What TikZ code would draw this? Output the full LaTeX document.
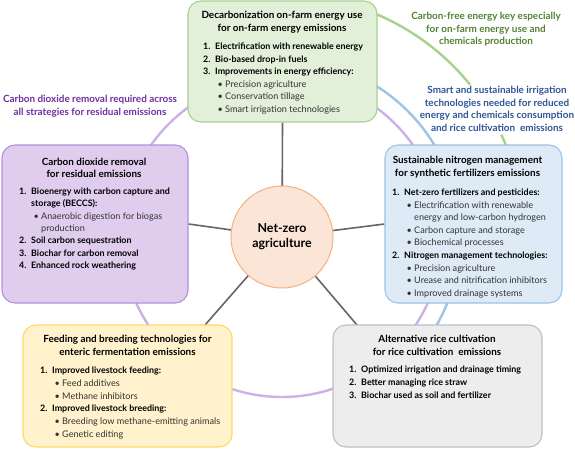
\documentclass[tikz,border=0pt]{standalone}
\usepackage{fontspec}
\setmainfont{Lato}
\usetikzlibrary{backgrounds}
\definecolor{gfill}{HTML}{E2EFD9}\definecolor{gdraw}{HTML}{A9D18E}
\definecolor{bfill}{HTML}{DEEBF7}\definecolor{bdraw}{HTML}{9DC3E6}
\definecolor{pfill}{HTML}{E0CDEE}\definecolor{pdraw}{HTML}{B590D8}
\definecolor{yfill}{HTML}{FFF2CC}\definecolor{ydraw}{HTML}{FFD966}
\definecolor{kfill}{HTML}{EDEDED}\definecolor{kdraw}{HTML}{BFBFBF}
\definecolor{cfill}{HTML}{FBE5D6}\definecolor{cdraw}{HTML}{F4B183}
\definecolor{garc}{HTML}{A9D18E}\definecolor{barc}{HTML}{9DC3E6}\definecolor{parc}{HTML}{CDB0EA}
\definecolor{gtxt}{HTML}{548235}\definecolor{btxt}{HTML}{2F5597}\definecolor{ptxt}{HTML}{7030A0}
\definecolor{spk}{HTML}{666666}\definecolor{subtxt}{HTML}{333333}
\newcommand\stk[2]{\vtop{\baselineskip=#1\lineskiplimit=-20pt\lineskip=0pt #2}}
\newcommand\cl[1]{\hbox to 0pt{\hss#1\hss}}
\newcommand\itfont{\fontsize{8.9}{12}\selectfont\bfseries}
\newcommand\bufont{\fontsize{9.1}{12}\selectfont}
\newcommand\itm[2]{\hbox{\itfont\makebox[12pt][l]{#1}#2}}
\newcommand\itc[1]{\hbox{\itfont\hspace*{12pt}#1}}
\newcommand\bul[1]{\hbox{\bufont\color{subtxt}\hspace*{14.5pt}\makebox[7.5pt][l]{\textbullet}#1}}
\newcommand\buc[1]{\hbox{\bufont\color{subtxt}\hspace*{22pt}#1}}
\begin{document}
\begin{tikzpicture}[x=1pt,y=1pt,
  box/.style={rectangle,rounded corners=13pt,line width=1.1pt,inner sep=0pt},
  ttl/.style={inner sep=0pt,anchor=base,font=\fontsize{9.9}{13}\selectfont\bfseries},
  lst/.style={inner sep=0pt,anchor=base west},
  ann/.style={inner sep=0pt,anchor=base,font=\fontsize{9.9}{12.5}\selectfont\bfseries},
  spoke/.style={spk,line width=1.6pt},
  arcline/.style={line width=2.4pt}]
\useasboundingbox (0,0) rectangle (575,448);
% boxes
\node[box,fill=gfill,draw=gdraw,minimum width=189pt,minimum height=121pt] (gb) at (282.5,386.5) {};
\node[box,fill=bfill,draw=bdraw,minimum width=177pt,minimum height=158pt] (bb) at (473.5,224) {};
\node[box,fill=pfill,draw=pdraw,minimum width=186pt,minimum height=158pt] (pb) at (95,224) {};
\node[box,fill=yfill,draw=ydraw,minimum width=209pt,minimum height=122pt] (yb) at (127.5,62) {};
\node[box,fill=kfill,draw=kdraw,minimum width=209pt,minimum height=122pt] (kb) at (437.5,62) {};
\node[circle,fill=cfill,draw=cdraw,line width=1pt,minimum size=102pt,inner sep=0pt,align=center,
  font=\fontsize{12.4}{15}\selectfont\bfseries] (c) at (282,211) {Net-zero\\agriculture};
% green box
\node[ttl] (gt) at (282,429.5) {\stk{13pt}{\cl{Decarbonization on-farm energy use}\cl{for on-farm energy emissions}}};
\node[lst] (gl) at (203,398.5) {\stk{12.6pt}{%
  \itm{1.}{Electrification with renewable energy}%
  \itm{2.}{Bio-based drop-in fuels}%
  \itm{3.}{Improvements in energy efficiency:}%
  \bul{Precision agriculture}%
  \bul{Conservation tillage}%
  \bul{Smart irrigation technologies}}};
% blue box
\node[ttl] (bt) at (467.5,284.5) {\stk{13pt}{\cl{Sustainable nitrogen management}\cl{for synthetic fertilizers emissions}}};
\node[lst] (bl) at (392,252.5) {\stk{12.6pt}{%
  \itm{1.}{Net-zero fertilizers and pesticides:}%
  \bul{Electrification with renewable}%
  \buc{energy and low-carbon hydrogen}%
  \bul{Carbon capture and storage}%
  \bul{Biochemical processes}%
  \itm{2.}{Nitrogen management technologies:}%
  \bul{Precision agriculture}%
  \bul{Urease and nitrification inhibitors}%
  \bul{Improved drainage systems}}};
% purple box
\node[ttl] (pt) at (94,283) {\stk{12.5pt}{\cl{Carbon dioxide removal}\cl{for residual emissions}}};
\node[lst] (pl) at (19,253.5) {\stk{12.3pt}{%
  \itm{1.}{Bioenergy with carbon capture and}%
  \itc{storage (BECCS):}%
  \bul{Anaerobic digestion for biogas}%
  \buc{production}%
  \itm{2.}{Soil carbon sequestration}%
  \itm{3.}{Biochar for carbon removal}%
  \itm{4.}{Enhanced rock weathering}}};
% yellow box
\node[ttl] (yt) at (127.5,105.5) {\stk{13pt}{\cl{Feeding and breeding technologies for}\cl{enteric fermentation emissions}}};
\node[lst] (yl) at (40,74.5) {\stk{12.8pt}{%
  \itm{1.}{Improved livestock feeding:}%
  \bul{Feed additives}%
  \bul{Methane inhibitors}%
  \itm{2.}{Improved livestock breeding:}%
  \bul{Breeding low methane-emitting animals}%
  \bul{Genetic editing}}};
% gray box
\node[ttl] (kt) at (437,105.5) {\stk{12.5pt}{\cl{Alternative rice cultivation}\cl{for rice cultivation\ \ emissions}}};
\node[lst] (kl) at (349,75.5) {\stk{13pt}{%
  \itm{1.}{Optimized irrigation and drainage timing}%
  \itm{2.}{Better managing rice straw}%
  \itm{3.}{Biochar used as soil and fertilizer}}};
% annotations
\node[ann,text=gtxt] (ga) at (486,428) {\stk{12.5pt}{\cl{Carbon-free energy key especially}\cl{for on-farm energy use and}\cl{chemicals production}}};
\node[ann,text=btxt] (ba) at (497,354.5) {\stk{12.6pt}{\cl{Smart and sustainable irrigation}\cl{technologies needed for reduced}\cl{energy and chemicals consumption}\cl{and rice cultivation\ \ emissions}}};
\node[ann,text=ptxt] (pa) at (90,345.5) {\stk{13pt}{\cl{Carbon dioxide removal required across}\cl{all strategies for residual emissions}}};
% spoke ends
\coordinate (ys) at (205,123);
\coordinate (ks) at (357,123);
\begin{scope}[on background layer]
\fill[white] (0,0) rectangle (575,448);
\draw[parc,arcline] (c.center) circle[radius=160pt];
\draw[barc,arcline] (c.center) ++(62:178pt) arc[start angle=62,end angle=-35,radius=178pt];
\draw[garc,arcline] (c.center) ++(70:242pt) arc[start angle=70,end angle=39,radius=242pt];
\draw[garc,arcline] (c.center) ++(25:242pt) arc[start angle=25,end angle=15,radius=242pt];
\draw[spoke] (c.center) -- (gb.south);
\draw[spoke] (c.center) -- (bb.west);
\draw[spoke] (c.center) -- (pb.east);
\draw[spoke] (c.center) -- (ys);
\draw[spoke] (c.center) -- (ks);
\end{scope}
\end{tikzpicture}
\end{document}
